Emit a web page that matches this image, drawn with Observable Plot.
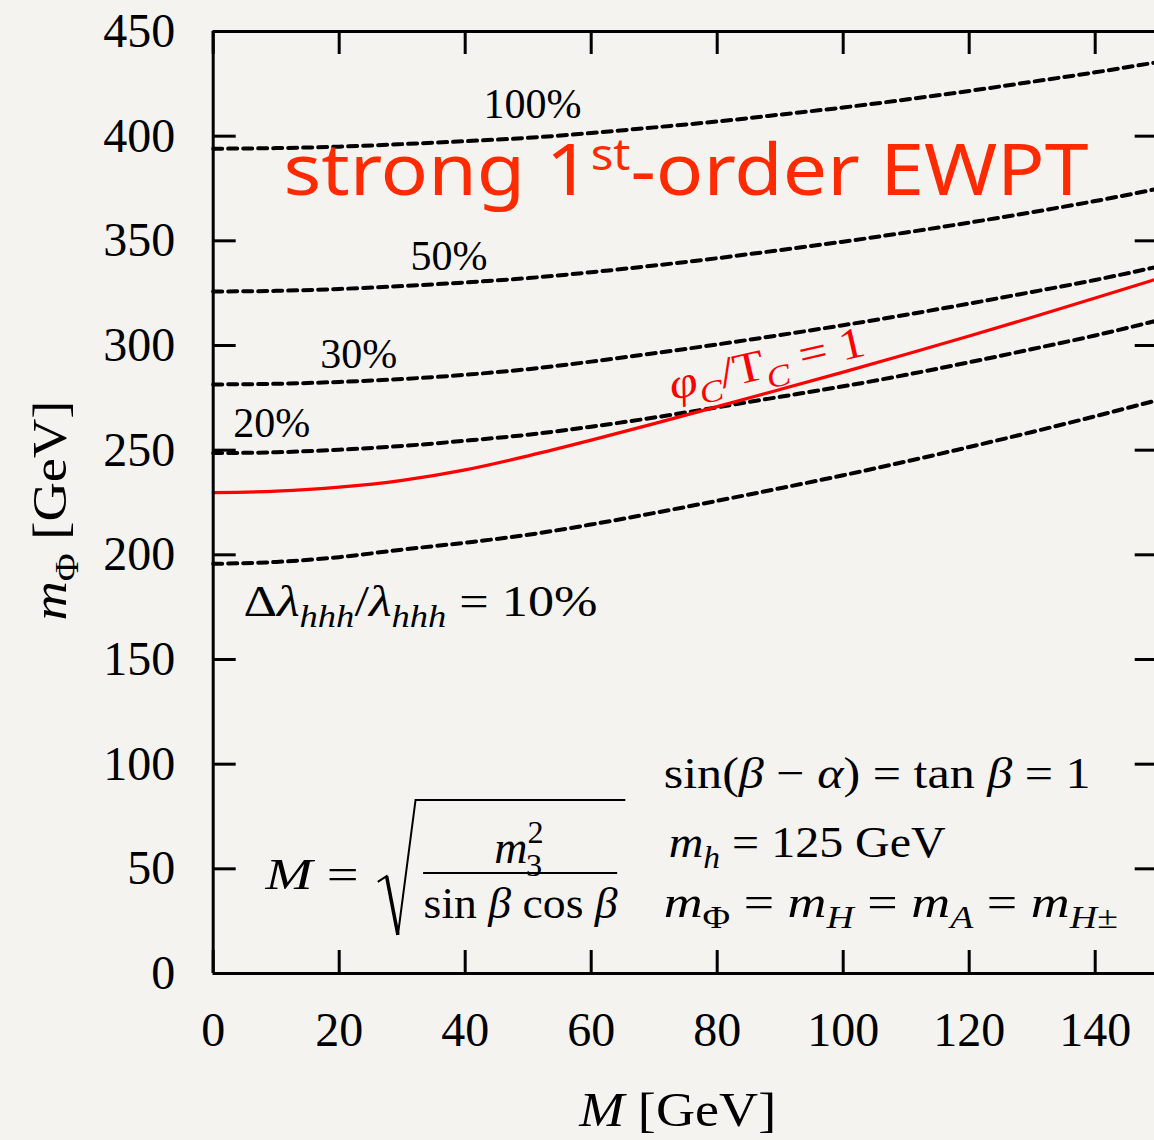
<!DOCTYPE html>
<html><head><meta charset="utf-8">
<script src="https://cdn.jsdelivr.net/npm/d3@7"></script>
<script src="https://cdn.jsdelivr.net/npm/@observablehq/plot@0.6"></script>
<style>
html,body{margin:0;padding:0;background:#f5f3f0;overflow:hidden;}
#wrap{width:1154px;height:1140px;overflow:hidden;position:relative;background:#f5f3f0;}
</style></head><body><div id="wrap"></div>
<script>
// ---- data ----
const M = [0,10,20,30,40,50,60,70,80,90,100,110,120,130,140,150];
const dl100 = [394,394.3,395,396.2,397.6,399.2,401.5,404.2,407,410.3,413.7,417.5,421.6,426,430.5,435.4];
const dl50  = [325.8,326.1,327,328.4,330.1,332.2,335,338.2,341.7,345.6,349.6,354,358.7,363.7,369,374.9];
const dl30  = [281.4,281.7,282.6,284,286,288.7,292.3,296.3,300.5,305,309.7,314.7,320,325.6,331.3,337.7];
const dl20  = [248.6,249,250.2,252,254.5,257.4,261.2,265.6,270.5,275.5,280.5,286,292,298.3,304.8,312];
const dl10  = [195.7,196.6,198.9,202.5,205.8,209.6,214.5,220,225.8,231.8,238,244.6,251.5,258.7,266.2,274];
const phiT1 = [229.7,230.4,232.3,235.6,240.6,247.3,254.8,262.7,270.8,279.0,287.3,295.8,304.5,313.5,322.7,332.0];
const levelNames = ["100%","50%","30%","20%","10%"];
const levelValues = [dl100, dl50, dl30, dl20, dl10];
const xTicks = [0,20,40,60,80,100,120,140];
const yTicks = [0,50,100,150,200,250,300,350,400,450];

// ---- annotations (data coordinates) ----
const pctLabels = [
  {text:"100%", M:42.9, v:408.5},
  {text:"50%",  M:31.3, v:335.9},
  {text:"30%",  M:17.0, v:289.1},
  {text:"20%",  M:3.2,  v:256.1}
];
const I = true;
const rich = [
  {key:"strong 1st-order EWPT", M:11.16, v:371.7, size:72, len:805, font:"'Comic Sans MS','Noto Sans',sans-serif", fill:"#ff2a00",
   segs:[{t:"strong 1"},{t:"st",sz:0.6,off:-0.36},{t:"-order EWPT"}]},
  {key:"Δλhhh/λhhh = 10%", M:4.8, v:171, size:44, len:354,
   segs:[{t:"Δ"},{t:"λ",it:I},{t:"hhh",it:I,sz:0.7,off:0.25},{t:"/"},{t:"λ",it:I},{t:"hhh",it:I,sz:0.7,off:0.25},{t:" = 10%"}]},
  {key:"φC/TC = 1", M:72.9, v:274.0, size:44, len:200, fill:"#ff0000", rotate:-13,
   segs:[{t:"φ",it:I},{t:"C",it:I,sz:0.7,off:0.25},{t:"/T"},{t:"C",it:I,sz:0.7,off:0.25},{t:" = 1"}]},
  {key:"M =", M:8.3, v:40.6, size:44, len:93,
   segs:[{t:"M",it:I},{t:" ="}]},
  {key:"m32", M:44.6, v:53.0, size:46,
   segs:[{t:"m",it:I},{t:"2",sz:0.7,off:-0.42},{t:"3",sz:0.7,off:0.3,dx:-0.38}]},
  {key:"sin β cos β", M:33.4, v:26.3, size:44, len:194,
   segs:[{t:"sin "},{t:"β",it:I},{t:" cos "},{t:"β",it:I}]},
  {key:"sin(β − α) = tan β = 1", M:71.5, v:88.4, size:44, len:427,
   segs:[{t:"sin("},{t:"β",it:I},{t:" − "},{t:"α",it:I},{t:") = tan "},{t:"β",it:I},{t:" = 1"}]},
  {key:"mh = 125 GeV", M:72.3, v:55.5, size:44, len:277,
   segs:[{t:"m",it:I},{t:"h",it:I,sz:0.7,off:0.25},{t:" = 125 GeV"}]},
  {key:"mΦ = mH = mA = mH±", M:71.5, v:27.2, size:44, len:454,
   segs:[{t:"m",it:I},{t:"Φ",sz:0.7,off:0.25},{t:" = "},{t:"m",it:I},{t:"H",it:I,sz:0.7,off:0.25},{t:" = "},
         {t:"m",it:I},{t:"A",it:I,sz:0.7,off:0.25},{t:" = "},{t:"m",it:I},{t:"H±",it:I,sz:0.7,off:0.25}]}
];
const axisLabels = {
  y: {key:"mΦ [GeV]", segs:[{t:"m",it:I},{t:"Φ",sz:0.7,off:0.25},{t:" [GeV]"}], len:220},
  x: {key:"M [GeV]", segs:[{t:"M",it:I},{t:" [GeV]"}], len:197}
};

// ---- tables ----
const dashed = levelNames.flatMap((name, j) => M.map((m, i) => ({M: m, v: levelValues[j][i], level: name})));
const redCurve = M.map((m, i) => ({M: m, v: phiT1[i]}));

const W = 1158, H = 1140, mL = 212.7, mR = 0.3, mT = 31, mB = 167;
const frameW = W - mL - mR, frameH = H - mT - mB;
const serif = "'Liberation Serif','DejaVu Serif',serif";
const tickLen = 23, lw = 3;

const plot = Plot.plot({
  width: W, height: H,
  marginLeft: mL, marginRight: mR, marginTop: mT, marginBottom: mB,
  x: {domain: [0, 150]},
  y: {domain: [0, 450]},
  style: {background: "transparent", fontFamily: serif, color: "black", maxWidth: "none", overflow: "visible"},
  marks: [
    Plot.line(dashed, {x: "M", y: "v", z: "level", stroke: "black", strokeWidth: 4, strokeDasharray: "9,6", curve: "monotone-x"}),
    Plot.line(redCurve, {x: "M", y: "v", stroke: "#ff0000", strokeWidth: 3.2, curve: "monotone-x"}),
    // frame
    Plot.ruleX([0], {stroke: "black", strokeWidth: lw}),
    Plot.ruleY([0, 450], {stroke: "black", strokeWidth: lw}),
    Plot.ruleX([150], {stroke: "black", strokeWidth: lw}),
    // inward ticks
    Plot.ruleY(yTicks, {stroke: "black", strokeWidth: lw, insetRight: frameW - tickLen}),
    Plot.ruleY(yTicks, {stroke: "black", strokeWidth: lw, insetLeft: frameW - tickLen}),
    Plot.ruleX(xTicks, {stroke: "black", strokeWidth: lw, insetTop: frameH - tickLen}),
    Plot.ruleX(xTicks, {stroke: "black", strokeWidth: lw, insetBottom: frameH - tickLen}),
    // tick labels
    Plot.axisY(yTicks, {anchor: "left", tickSize: 0, tickPadding: 38, fontSize: 48, fontFamily: serif, label: null}),
    Plot.axisX(xTicks, {anchor: "bottom", tickSize: 0, tickPadding: 38, fontSize: 48, fontFamily: serif, label: null}),
    // axis titles
    Plot.text([axisLabels.y.key], {frameAnchor: "left", dx: -163, dy: 118, rotate: -90, textAnchor: "start", fontSize: 48, fontFamily: serif, fill: "black"}),
    Plot.text([axisLabels.x.key], {frameAnchor: "bottom", dx: -8, dy: 152, lineAnchor: "bottom", fontSize: 48, fontFamily: serif, fill: "black"}),
    // percentage labels
    Plot.text(pctLabels, {x: "M", y: "v", text: "text", textAnchor: "start", lineAnchor: "bottom", fontSize: 42, fontFamily: serif, fill: "black"}),
    // rich annotations
    ...rich.map(r => Plot.text([r], {x: "M", y: "v", text: "key", textAnchor: "start", lineAnchor: "bottom",
      fontSize: r.size, fontFamily: r.font || serif, fill: r.fill || "black", rotate: r.rotate || 0}))
  ]
});
document.getElementById("wrap").appendChild(plot);

// ---- rich text post-processing ----
function applyRich(el, segs, base, len) {
  el.textContent = "";
  let cur = 0;
  for (const s of segs) {
    const fs = base * (s.sz || 1);
    const off = (s.off || 0) * base;
    const ts = d3.select(el).append("tspan").text(s.t).attr("font-size", fs);
    if (s.it) ts.attr("font-style", "italic");
    if (off !== cur) { ts.attr("dy", off - cur); cur = off; }
    if (s.dx) ts.attr("dx", s.dx * base);
  }
  if (len) { el.setAttribute("textLength", len); el.setAttribute("lengthAdjust", "spacingAndGlyphs"); }
}
const texts = Array.from(plot.querySelectorAll("text"));
function find(key) { return texts.find(t => t.textContent === key); }
for (const r of rich) { const el = find(r.key); if (el) applyRich(el, r.segs, r.size, r.len); }
for (const k of ["x", "y"]) { const a = axisLabels[k]; const el = find(a.key); if (el) applyRich(el, a.segs, 48, a.len); }

// ---- radical sign and fraction bar of the M formula ----
const sx = plot.scale("x"), sy = plot.scale("y");
const radical = [[26.2, 43.5], [27.6, 46.3], [29.4, 18.2], [32.2, 82.7], [65.5, 82.7]];
const fracBar = [[33.4, 47.8], [64.2, 47.8]];
const svg = d3.select(plot);
const line = d3.line().x(d => sx.apply(d[0])).y(d => sy.apply(d[1]));
svg.append("path").attr("d", line(radical)).attr("fill", "none").attr("stroke", "black").attr("stroke-width", 2).attr("stroke-linejoin", "miter");
svg.append("path").attr("d", line(radical.slice(1, 3))).attr("fill", "none").attr("stroke", "black").attr("stroke-width", 3.5);
svg.append("path").attr("d", line(fracBar)).attr("fill", "none").attr("stroke", "black").attr("stroke-width", 2);
</script></body></html>
